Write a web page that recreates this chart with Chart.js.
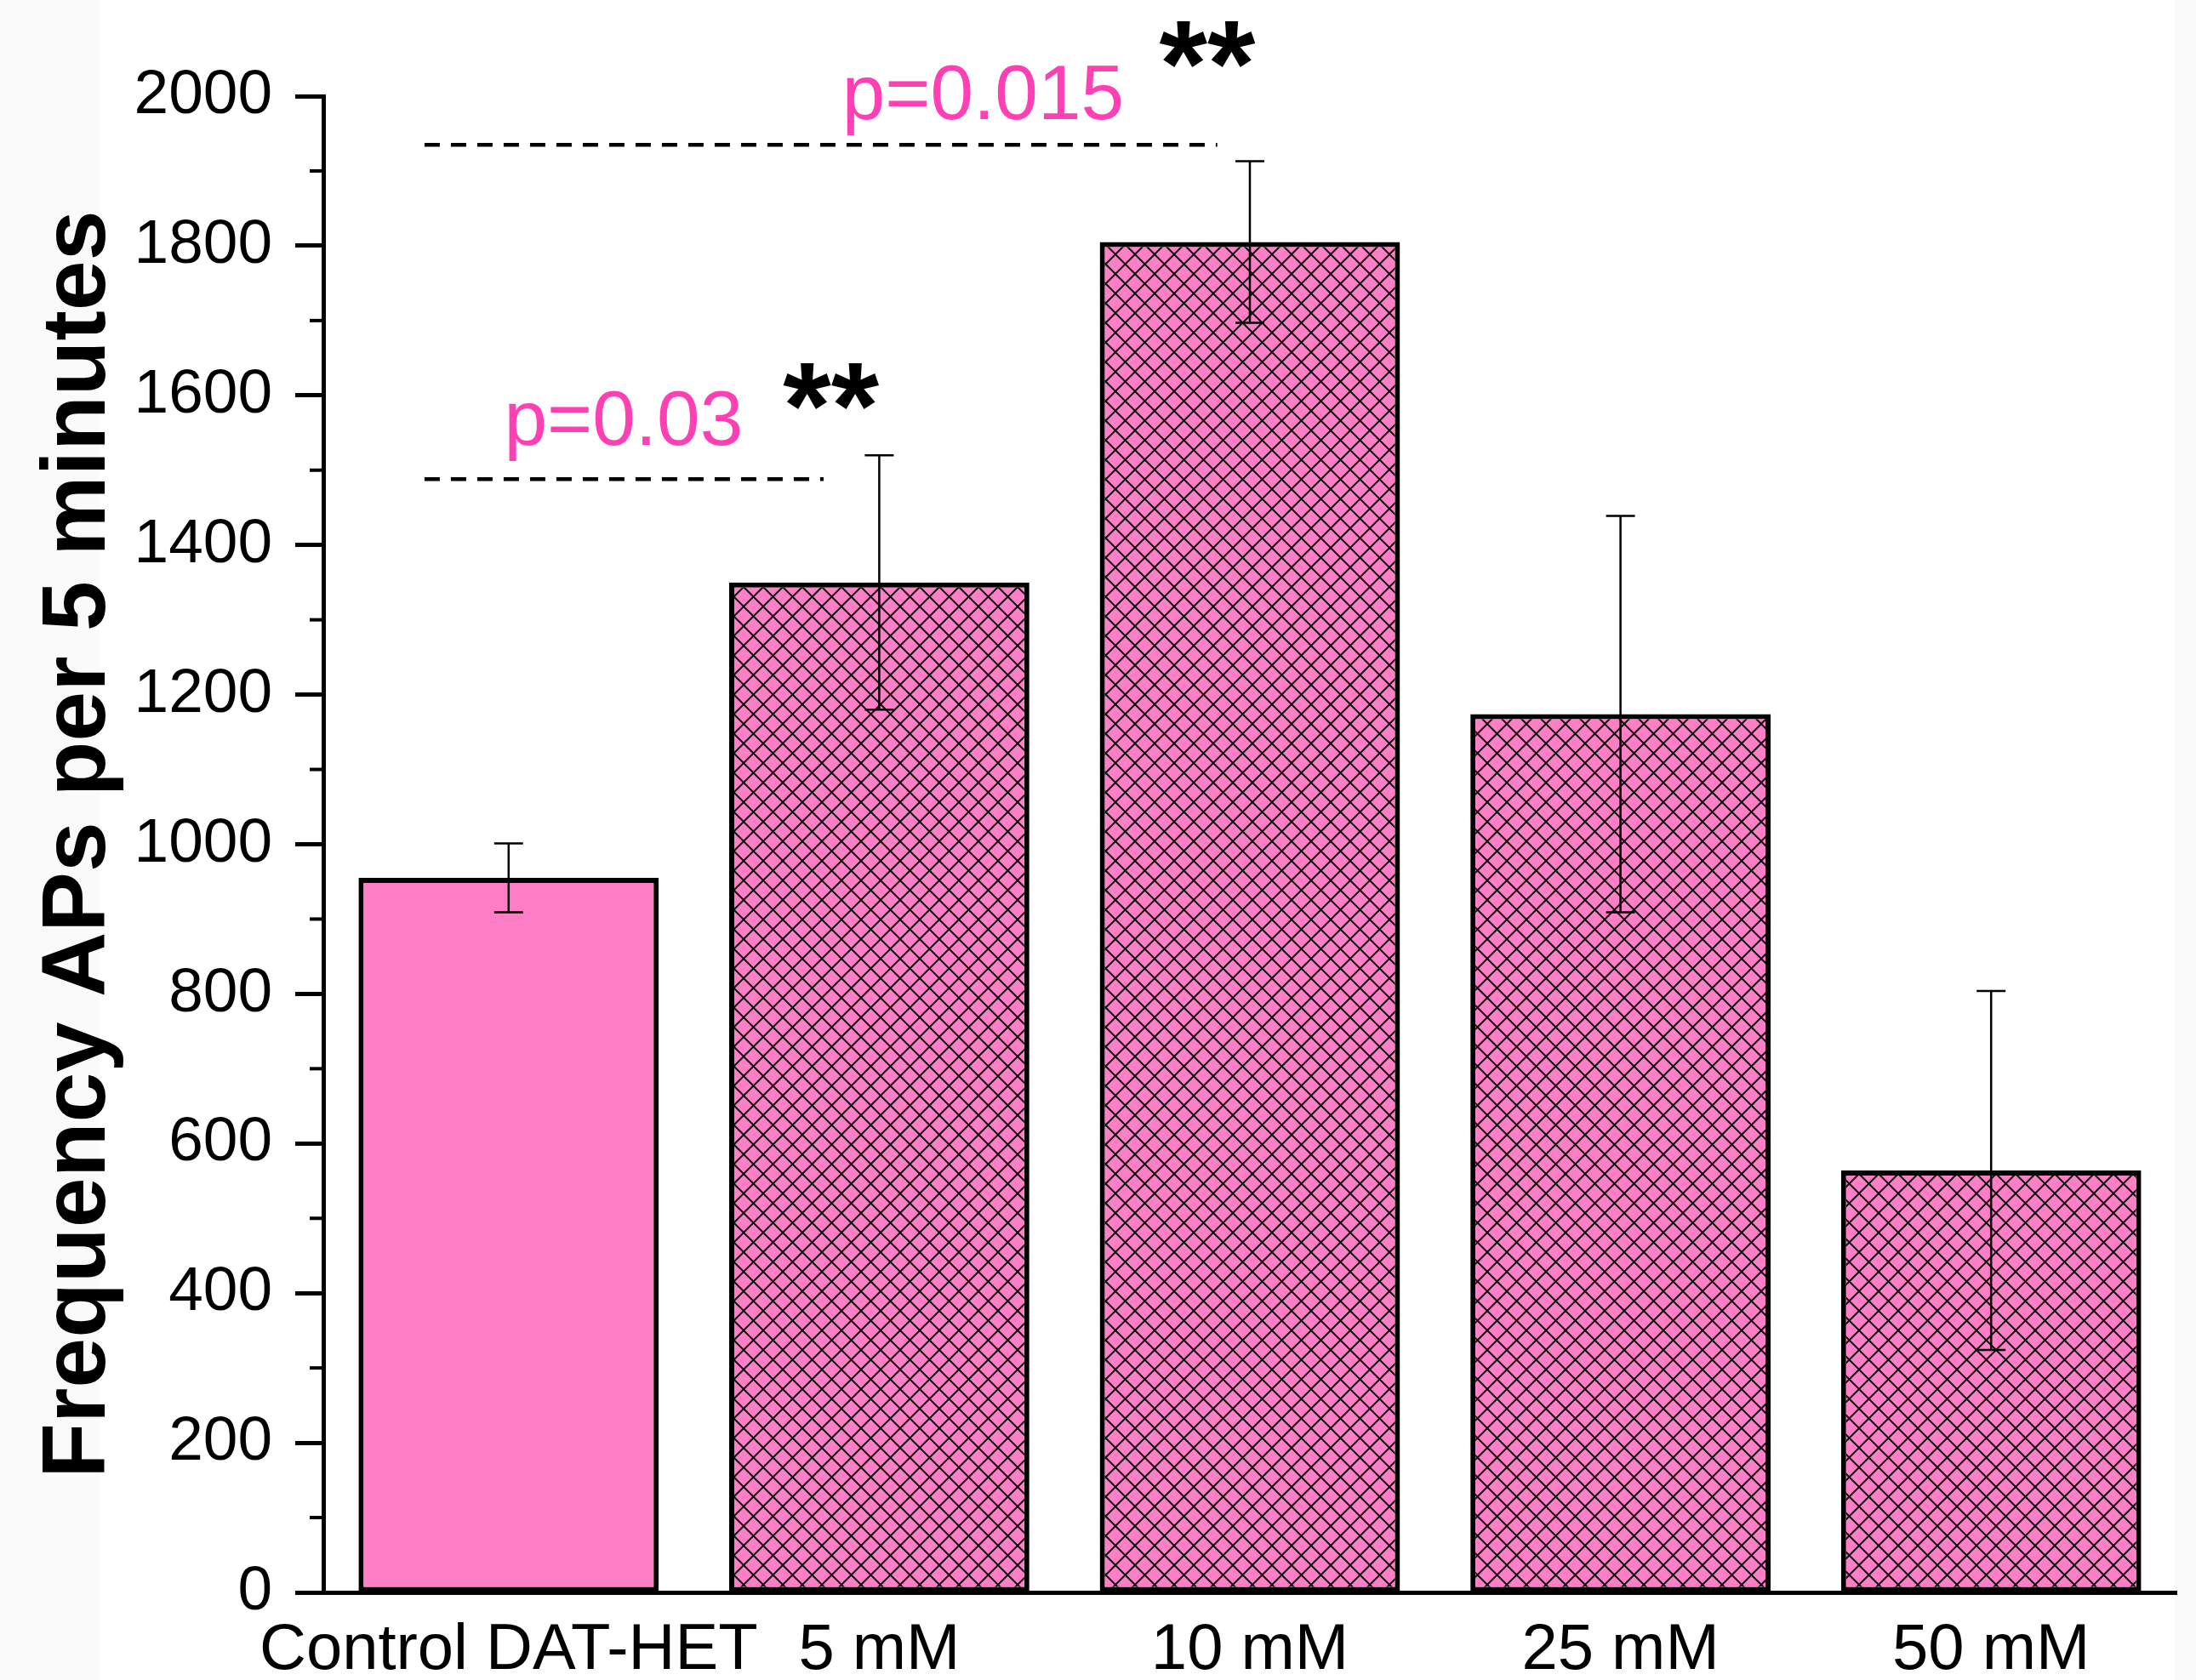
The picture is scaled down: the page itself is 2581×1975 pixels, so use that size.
<!DOCTYPE html>
<html>
<head>
<meta charset="utf-8">
<script src="https://cdn.jsdelivr.net/npm/chart.js@4.4.0/dist/chart.umd.min.js"></script>
<style>
  html, body { margin: 0; padding: 0; background: #fafafa; }
  #wrap { width: 2581px; height: 1975px; }
</style>
</head>
<body>
<div id="wrap"><canvas id="chart" width="2581" height="1975"></canvas></div>
<script>
// values
const categories = ['Control DAT-HET', '5 mM', '10 mM', '25 mM', '50 mM'];
const frequency = [955, 1350, 1805, 1174, 564];
const sem = [46, 170, 108, 265, 240];
const yTicks = [0, 200, 400, 600, 800, 1000, 1200, 1400, 1600, 1800, 2000];
const yMinorTicks = [100, 300, 500, 700, 900, 1100, 1300, 1500, 1700, 1900];

// significance marks (x in category units, y in data units)
const sigLines = [
  { x0: -0.227, x1: 0.85, y: 1488 },
  { x0: -0.227, x1: 1.912, y: 1935 }
];
const sigLabels = [
  { text: 'p=0.03', x: 0.31, y: 1534 },
  { text: 'p=0.015', x: 1.28, y: 1969 }
];
const sigStars = [
  { text: '**', x: 0.87, y: 1529 },
  { text: '**', x: 1.885, y: 1986 }
];

const FONT = '"Liberation Sans", Arial, sans-serif';
const PINK = '#ff7fc7';

// crosshatch fill like the original
function makeHatch() {
  const d = 23;
  const c = document.createElement('canvas');
  c.width = d; c.height = d;
  const g = c.getContext('2d');
  g.fillStyle = PINK;
  g.fillRect(0, 0, d, d);
  g.strokeStyle = '#111';
  g.lineWidth = 2;
  for (const off of [-d, 0, d]) {
    g.beginPath();
    g.moveTo(off, 0); g.lineTo(off + d, d);
    g.moveTo(off, d); g.lineTo(off + d, 0);
    g.stroke();
  }
  return document.getElementById('chart').getContext('2d').createPattern(c, 'repeat');
}
const hatch = makeHatch();

const background = {
  id: 'background',
  beforeDraw(chart) {
    const ctx = chart.ctx;
    ctx.save();
    ctx.fillStyle = '#fafafa';
    ctx.fillRect(0, 0, chart.width, chart.height);
    ctx.fillStyle = '#ffffff';
    ctx.fillRect(117, 0, 2556 - 117, chart.height);
    ctx.restore();
  }
};

const extras = {
  id: 'extras',
  afterDatasetsDraw(chart) {
    const ctx = chart.ctx;
    const xs = chart.scales.x, ys = chart.scales.y;
    const p0 = xs.getPixelForValue(0), step = xs.getPixelForValue(1) - p0;
    const xPix = v => p0 + v * step;
    ctx.save();

    // error bars
    ctx.strokeStyle = '#000';
    ctx.lineWidth = 2.5;
    frequency.forEach((v, i) => {
      const x = xs.getPixelForValue(i);
      const yt = ys.getPixelForValue(v + sem[i]);
      const yb = ys.getPixelForValue(v - sem[i]);
      ctx.beginPath();
      ctx.moveTo(x, yt); ctx.lineTo(x, yb);
      ctx.moveTo(x - 17, yt); ctx.lineTo(x + 17, yt);
      ctx.moveTo(x - 17, yb); ctx.lineTo(x + 17, yb);
      ctx.stroke();
    });

    // minor ticks on y axis
    ctx.lineWidth = 4;
    const ax = chart.chartArea.left;
    yMinorTicks.forEach(v => {
      const y = ys.getPixelForValue(v);
      ctx.beginPath();
      ctx.moveTo(ax - 16, y); ctx.lineTo(ax, y);
      ctx.stroke();
    });

    // dashed lines
    ctx.lineWidth = 4.5;
    ctx.setLineDash([18, 13]);
    sigLines.forEach(l => {
      const y = ys.getPixelForValue(l.y);
      ctx.beginPath();
      ctx.moveTo(xPix(l.x0), y); ctx.lineTo(xPix(l.x1), y);
      ctx.stroke();
    });
    ctx.setLineDash([]);

    ctx.textAlign = 'center';
    ctx.textBaseline = 'alphabetic';
    ctx.fillStyle = '#ff3fb4';
    ctx.font = '91px ' + FONT;
    sigLabels.forEach(t => ctx.fillText(t.text, xPix(t.x), ys.getPixelForValue(t.y)));
    ctx.fillStyle = '#000';
    ctx.font = 'bold 145px ' + FONT;
    sigStars.forEach(t => ctx.fillText(t.text, xPix(t.x), ys.getPixelForValue(t.y)));
    ctx.restore();
  }
};

new Chart(document.getElementById('chart'), {
  type: 'bar',
  data: {
    labels: categories,
    datasets: [{
      data: frequency,
      backgroundColor: frequency.map((v, i) => i === 0 ? PINK : hatch),
      borderColor: '#000',
      borderWidth: 6,
      borderSkipped: false,
      categoryPercentage: 0.81,
      barPercentage: 1.0
    }]
  },
  options: {
    responsive: false,
    animation: false,
    devicePixelRatio: 1,
    layout: { padding: { left: 30, top: 113, right: 23, bottom: 0 } },
    plugins: { legend: { display: false }, tooltip: { enabled: false } },
    scales: {
      x: {
        grid: { display: false, drawTicks: false },
        border: { display: true, color: '#000', width: 5 },
        ticks: { color: '#000', font: { family: FONT, size: 76 }, padding: 23, maxRotation: 0, autoSkip: false },
        afterFit(s) { s.height = 103; }
      },
      y: {
        min: 0,
        max: 2000,
        afterBuildTicks(s) { s.ticks = yTicks.map(v => ({ value: v })); },
        grid: { drawOnChartArea: false, drawTicks: true, tickLength: 33, tickWidth: 5, tickColor: '#000' },
        border: { display: true, color: '#000', width: 5 },
        ticks: { color: '#000', font: { family: FONT, size: 73 }, padding: 27, callback: v => String(v) },
        title: {
          display: true,
          text: 'Frequency APs per 5 minutes',
          color: '#000',
          font: { family: FONT, size: 106, weight: 'bold' },
          padding: 0
        },
        afterFit(s) { s.width = 350; }
      }
    }
  },
  plugins: [background, extras]
});
</script>
</body>
</html>
